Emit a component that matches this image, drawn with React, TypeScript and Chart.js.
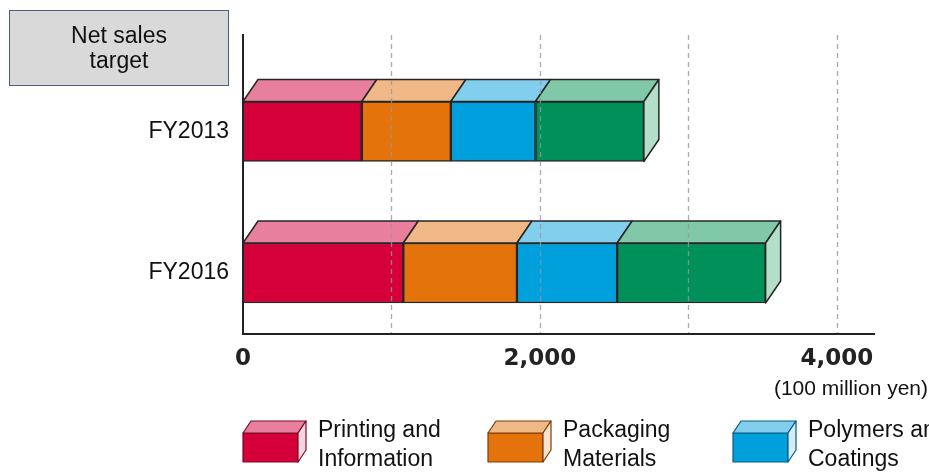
import { useEffect, useRef } from 'react';
import { Chart, registerables } from 'chart.js';

Chart.register(...registerables);

// Net sales by business segment (100 million yen)
const CATEGORIES = ['FY2013', 'FY2016'];
const SEGMENTS = [
  'Printing and\nInformation',
  'Packaging\nMaterials',
  'Polymers and\nCoatings',
  'Colorants and\nFunctional Materials',
];
const PRINTING = [800, 1080];
const PACKAGING = [600, 765];
const POLYMERS = [570, 675];
const COLORANTS = [730, 1000];
const SERIES = [PRINTING, PACKAGING, POLYMERS, COLORANTS];
const X_TICKS = [0, 1000, 2000, 3000, 4000];
const UNIT_LABEL = '(100 million yen)';
const TITLE_LINES = ['Net sales', 'target'];

const FRONT = ['#d5003a', '#e4730c', '#00a0dc', '#00915a'];
const TOP = ['#e8809d', '#f0b886', '#82cfed', '#80c8a7'];
const SIDE = ['#f6d6de', '#fae4cf', '#d3eef9', '#b3dfc8'];
const LEGEND_EDGE = ['#7a0a28', '#7a3e08', '#0a5a80', '#0a4d30'];
const EDGE = '#262626';
const GRID_COLOR = 'rgba(150,150,150,0.8)';
const TEXT_FONT = '"Liberation Sans", Arial, sans-serif';

const DEPTH_X = 15;
const DEPTH_Y = 22;

function drawBox(
  ctx: CanvasRenderingContext2D,
  l: number, t: number, r: number, b: number,
  dx: number, dy: number,
  i: number, edge: string, withFront: boolean, withSide: boolean,
) {
  ctx.strokeStyle = edge;
  if (withFront) {
    ctx.fillStyle = FRONT[i];
    ctx.fillRect(l, t, r - l, b - t);
    ctx.strokeRect(l, t, r - l, b - t);
  }
  ctx.beginPath();
  ctx.moveTo(l, t);
  ctx.lineTo(l + dx, t - dy);
  ctx.lineTo(r + dx, t - dy);
  ctx.lineTo(r, t);
  ctx.closePath();
  ctx.fillStyle = TOP[i];
  ctx.fill();
  ctx.stroke();
  if (withSide) {
    ctx.beginPath();
    ctx.moveTo(r, t);
    ctx.lineTo(r + dx, t - dy);
    ctx.lineTo(r + dx, b - dy);
    ctx.lineTo(r, b);
    ctx.closePath();
    ctx.fillStyle = SIDE[i];
    ctx.fill();
    ctx.stroke();
  }
}

// Top and end faces that turn each stacked bar into a box,
// then the dashed value lines, which run over the boxes
const boxFaces = {
  id: 'boxFaces',
  afterDatasetsDraw(chart: any) {
    const ctx = chart.ctx as CanvasRenderingContext2D;
    const n = chart.data.datasets.length;
    ctx.save();
    ctx.lineWidth = 1.5;
    ctx.lineJoin = 'round';
    for (let d = 0; d < n; d++) {
      const meta = chart.getDatasetMeta(d);
      meta.data.forEach((bar: any) => {
        const { x, y, base, height } = bar.getProps(['x', 'y', 'base', 'height'], true);
        const l = Math.min(x, base);
        const r = Math.max(x, base);
        drawBox(ctx, l, y - height / 2, r, y + height / 2, DEPTH_X, DEPTH_Y, d, EDGE, false, d === n - 1);
      });
    }

    const xs = chart.scales.x;
    const area = chart.chartArea;
    ctx.strokeStyle = GRID_COLOR;
    ctx.lineWidth = 1.3;
    ctx.setLineDash([5, 4]);
    X_TICKS.filter((v) => v !== 0).forEach((v) => {
      const px = Math.round(xs.getPixelForValue(v)) + 0.5;
      ctx.beginPath();
      ctx.moveTo(px, area.top);
      ctx.lineTo(px, area.bottom);
      ctx.stroke();
    });
    ctx.restore();
  },
};

// Title box, unit caption and the box-shaped legend
const annotations = {
  id: 'annotations',
  afterDraw(chart: any) {
    const ctx = chart.ctx as CanvasRenderingContext2D;
    ctx.save();
    ctx.fillStyle = '#d9d9d9';
    ctx.fillRect(9.5, 10.5, 219, 75);
    ctx.strokeStyle = '#4a5f80';
    ctx.lineWidth = 1;
    ctx.strokeRect(9.5, 10.5, 219, 75);
    ctx.fillStyle = '#111';
    ctx.font = `23px ${TEXT_FONT}`;
    ctx.textAlign = 'center';
    ctx.textBaseline = 'alphabetic';
    TITLE_LINES.forEach((line, i) => ctx.fillText(line, 119, 43 + i * 25));

    ctx.font = `21px ${TEXT_FONT}`;
    ctx.textAlign = 'right';
    ctx.fillText(UNIT_LABEL, 928, 395);

    ctx.lineWidth = 1.2;
    ctx.lineJoin = 'round';
    SEGMENTS.forEach((name, i) => {
      const x0 = 243 + i * 245;
      drawBox(ctx, x0, 433, x0 + 55, 462, 8, 12, i, LEGEND_EDGE[i], true, true);
      ctx.fillStyle = '#111';
      ctx.font = `23px ${TEXT_FONT}`;
      ctx.textAlign = 'left';
      name.split('\n').forEach((line, k) => ctx.fillText(line, x0 + 75, 437 + k * 29));
    });
    ctx.restore();
  },
};

export default function App() {
  const ref = useRef<HTMLCanvasElement>(null);

  useEffect(() => {
    const canvas = ref.current;
    if (!canvas) return;
    const chart = new Chart(canvas, {
      type: 'bar',
      data: {
        datasets: SERIES.map((values, i) => ({
          label: SEGMENTS[i].replace('\n', ' '),
          data: values.map((v, j) => ({ x: v, y: j })),
          backgroundColor: FRONT[i],
          borderColor: EDGE,
          borderWidth: 1.5,
          borderSkipped: false,
          barThickness: 60,
          stack: 'total',
        })),
      },
      options: {
        indexAxis: 'y',
        responsive: false,
        animation: false,
        devicePixelRatio: 1,
        layout: { padding: { left: 0, right: 55, top: 35, bottom: 99 } },
        plugins: {
          legend: { display: false },
          tooltip: { enabled: false },
        },
        scales: {
          x: {
            type: 'linear',
            stacked: true,
            min: 0,
            max: 4250,
            afterBuildTicks: (scale: any) => {
              scale.ticks = X_TICKS.map((value) => ({ value }));
            },
            afterFit: (scale: any) => {
              scale.height = 40;
            },
            grid: { display: false, drawTicks: false },
            border: { display: true, color: '#222', width: 2, z: 1 },
            ticks: {
              autoSkip: false,
              maxRotation: 0,
              padding: 11,
              color: '#222',
              font: { family: '"DejaVu Sans", sans-serif', size: 23, weight: 'bold' },
              callback: (v: any) => (Number(v) % 2000 === 0 ? Number(v).toLocaleString('en-US') : ''),
            },
          },
          y: {
            type: 'linear',
            reverse: true,
            offset: false,
            bounds: 'data',
            min: -0.682,
            max: 1.431,
            afterBuildTicks: (scale: any) => {
              scale.ticks = CATEGORIES.map((_, value) => ({ value }));
            },
            afterFit: (scale: any) => {
              scale.width = 243;
            },
            grid: { display: false, drawTicks: false, offset: false },
            border: { display: true, color: '#222', width: 2 },
            ticks: {
              padding: 14,
              color: '#111',
              font: { family: '"Liberation Sans", Arial, sans-serif', size: 23 },
              callback: (v: any) => CATEGORIES[Number(v)] ?? '',
            },
          },
        },
      },
      plugins: [boxFaces, annotations],
    } as any);
    return () => chart.destroy();
  }, []);

  return (
    <div style={{ position: 'fixed', left: 0, top: 0, width: 929, height: 473, background: '#fff' }}>
      <canvas ref={ref} width={929} height={473} style={{ display: 'block' }} />
    </div>
  );
}
